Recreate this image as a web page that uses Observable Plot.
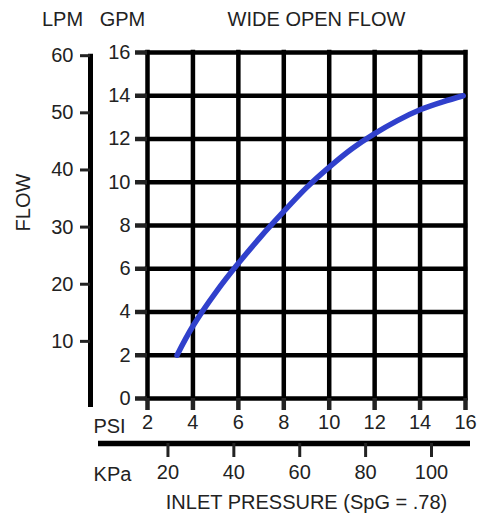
<!DOCTYPE html>
<html><head><meta charset="utf-8">
<script src="https://cdn.jsdelivr.net/npm/d3@7"></script>
<script src="https://cdn.jsdelivr.net/npm/@observablehq/plot@0.6"></script>
<style>html,body{margin:0;padding:0;background:#fff;overflow:hidden}</style>
</head><body><div id="chart"></div>
<script>
// Curve: wide open flow (GPM) vs inlet pressure (PSI)
const psi = [3.3, 4, 5, 6, 7, 8, 9, 10, 11, 12, 13, 14, 15, 15.9];
const gpm = [2.0, 3.35, 4.9, 6.25, 7.5, 8.65, 9.75, 10.7, 11.55, 12.25, 12.85, 13.35, 13.72, 14.0];
// Tick labels
const psiTicks = [2, 4, 6, 8, 10, 12, 14, 16];
const gpmTicks = [0, 2, 4, 6, 8, 10, 12, 14, 16];
const lpmTicks = [10, 20, 30, 40, 50, 60];
const kpaTicks = [20, 40, 60, 80, 100];
const LPM_PER_GPM = 3.785;
const KPA_PER_PSI = 6.895;

const data = psi.map((p, i) => ({psi: p, gpm: gpm[i]}));
const font = "'Liberation Sans', Arial, Helvetica, sans-serif";
const ink = "#000";
const txt = "#222";
const fs = 20;

const chart = Plot.plot({
  width: 478,
  height: 514,
  marginLeft: 147,
  marginRight: 13,
  marginTop: 52,
  marginBottom: 116,
  style: {fontFamily: font, fontSize: fs + "px", background: "#fff", color: txt},
  x: {domain: [2, 16], label: null},
  y: {domain: [0, 16], label: null},
  marks: [
    // grid
    Plot.ruleX(psiTicks, {y1: 16, y2: 0, stroke: ink, strokeWidth: 4.5, strokeLinecap: "square"}),
    Plot.ruleY(gpmTicks, {x1: 2, x2: 16, stroke: ink, strokeWidth: 4.5, strokeLinecap: "square"}),
    // GPM axis
    Plot.axisY({ticks: gpmTicks, tickSize: 12, tickPadding: 5, strokeWidth: 4.5, fontSize: fs, fill: txt, label: null}),
    // LPM axis (converted)
    Plot.ruleX([2], {y1: lpmTicks[lpmTicks.length - 1] / LPM_PER_GPM, y2: 0, dx: -57, insetTop: -1.5, insetBottom: -9, stroke: ink, strokeWidth: 5}),
    Plot.axisY(lpmTicks.map(v => v / LPM_PER_GPM), {tickSize: 10, tickPadding: 7, dx: -57, strokeWidth: 3, fontSize: fs, fill: txt, tickFormat: d => Math.round(d * LPM_PER_GPM), label: null}),
    // PSI axis
    Plot.axisX({ticks: psiTicks, tickSize: 12, tickPadding: 4, strokeWidth: 4.5, fontSize: fs, fill: txt, label: null}),
    // KPa axis (converted)
    Plot.ruleY([0], {x1: 2, x2: 16, dy: 45, insetLeft: -49, insetRight: -5, stroke: ink, strokeWidth: 5.5}),
    Plot.axisX(kpaTicks.map(v => v / KPA_PER_PSI), {tickSize: 14, tickPadding: 7, dy: 45, strokeWidth: 3, fontSize: fs, fill: txt, tickFormat: d => Math.round(d * KPA_PER_PSI), label: null}),
    // curve
    Plot.line(data, {x: "psi", y: "gpm", curve: "natural", stroke: "#3040cc", strokeWidth: 5.5}),
    // labels
    Plot.text(["LPM"], {frameAnchor: "top-left", dx: -85, dy: -33, fontSize: fs, fill: txt, textAnchor: "middle", lineAnchor: "middle"}),
    Plot.text(["GPM"], {frameAnchor: "top-left", dx: -25, dy: -33, fontSize: fs, fill: txt, textAnchor: "middle", lineAnchor: "middle"}),
    Plot.text(["WIDE OPEN FLOW"], {frameAnchor: "top-left", dx: 169, dy: -33, fontSize: fs, fill: txt, textAnchor: "middle", lineAnchor: "middle"}),
    Plot.text(["FLOW"], {frameAnchor: "top-left", dx: -124, dy: 150, rotate: -90, fontSize: fs, fill: txt, textAnchor: "middle", lineAnchor: "middle"}),
    Plot.text(["PSI"], {frameAnchor: "bottom-left", dx: -38, dy: 28, fontSize: fs, fill: txt, textAnchor: "middle", lineAnchor: "middle"}),
    Plot.text(["KPa"], {frameAnchor: "bottom-left", dx: -35, dy: 76, fontSize: fs, fill: txt, textAnchor: "middle", lineAnchor: "middle"}),
    Plot.text(["INLET PRESSURE (SpG = .78)"], {frameAnchor: "bottom-left", dx: 159, dy: 104, fontSize: fs, fill: txt, textAnchor: "middle", lineAnchor: "middle"})
  ]
});
document.getElementById("chart").appendChild(chart);
</script>
</body></html>
